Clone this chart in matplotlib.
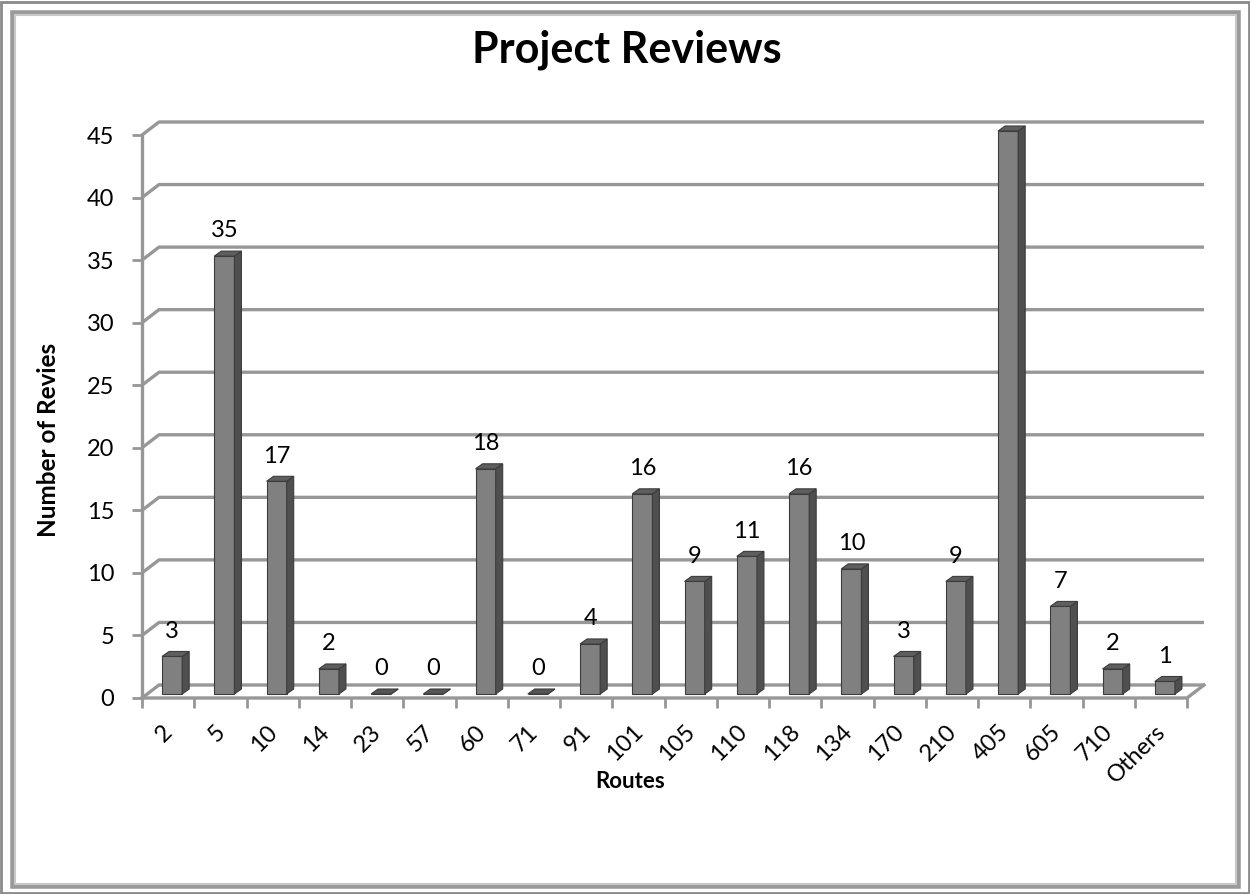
import matplotlib
matplotlib.use("Agg")
import matplotlib.pyplot as plt
import matplotlib.transforms as mtrans
from matplotlib.patches import Polygon, Rectangle
import numpy as np

plt.rcParams['font.family'] = ['Lato', 'DejaVu Sans']

categories = ["2", "5", "10", "14", "23", "57", "60", "71", "91", "101", "105",
              "110", "118", "134", "170", "210", "405", "605", "710", "Others"]
values = [3, 35, 17, 2, 0, 0, 18, 0, 4, 16, 9, 11, 16, 10, 3, 9, 45, 7, 2, 1]
yticks = [0, 5, 10, 15, 20, 25, 30, 35, 40, 45]

title = "Project Reviews"
xlabel = "Routes"
ylabel = "Number of Revies"

W, H = 1250, 894
fig = plt.figure(figsize=(W / 100, H / 100), dpi=100)

# axes: front plane of the 3D box
L, R, T, B = 142, 1187, 135, 698
ax = fig.add_axes([L / W, (H - B) / H, (R - L) / W, (B - T) / H])
n = len(categories)
ax.set_xlim(0, n)
ax.set_ylim(0, 45)
px = n / (R - L)      # data units per pixel in x
py = 45 / (B - T)     # data units per pixel in y

grid_c = "#979797"
# back wall offset
WX, WY = 17 * px, 13 * py
for t in yticks:
    ax.plot([0, WX, n + WX], [t, t + WY, t + WY], color=grid_c, lw=2.4,
            clip_on=False, zorder=1, solid_capstyle='butt')
# floor front and right edge
ax.plot([0, n, n + WX], [0, 0, WY], color=grid_c, lw=2.4, clip_on=False, zorder=1)

# bars
BX, BY = 4 * px, 4 * py
DX, DY = 7 * px, 5 * py
w = 0.385
centers = np.arange(n) + 0.5 + BX
front_c, side_c, top_c, edge_c = "#808080", "#4f4f4f", "#5e5e5e", "#3c3c3c"
ax.bar(centers, values, width=w, bottom=BY, color=front_c, edgecolor=edge_c,
       linewidth=0.8, zorder=3, clip_on=False)
for c, v in zip(centers, values):
    x0, x1 = c - w / 2, c + w / 2
    y0, yt = BY, BY + v
    side = Polygon([(x1, y0), (x1 + DX, y0 + DY), (x1 + DX, yt + DY), (x1, yt)],
                   closed=True, facecolor=side_c, edgecolor=edge_c, lw=0.8,
                   zorder=3, clip_on=False)
    top = Polygon([(x0, yt), (x0 + DX, yt + DY), (x1 + DX, yt + DY), (x1, yt)],
                  closed=True, facecolor=top_c if v > 0 else "#555555",
                  edgecolor=edge_c, lw=0.8, zorder=4, clip_on=False)
    ax.add_patch(side)
    ax.add_patch(top)
    ax.annotate(str(v), xy=(c, yt), xytext=(0, 13.5),
                textcoords='offset points', ha='center', va='baseline',
                fontsize=17, color='black', zorder=5)

# spines and ticks
for s in ['top', 'right', 'bottom']:
    ax.spines[s].set_visible(False)
ax.spines['left'].set_color(grid_c)
ax.spines['left'].set_linewidth(2.4)
ax.set_yticks(yticks)
ax.set_yticklabels([str(t) for t in yticks], fontsize=17)
ax.tick_params(axis='y', length=7, width=2, color=grid_c, pad=13)

ax.set_xticks(np.arange(n) + 0.5)
ax.set_xticks(np.arange(n + 1), minor=True)
ax.set_xticklabels(categories, rotation=45, ha='right', va='center',
                   rotation_mode='anchor', fontsize=17)
ax.tick_params(axis='x', which='major', length=0, pad=22)
ax.tick_params(axis='x', which='minor', length=7, width=2, color=grid_c)
off = mtrans.ScaledTranslation(1 / 100, 0, fig.dpi_scale_trans)
for lab in ax.get_xticklabels():
    lab.set_transform(lab.get_transform() + off)

fig.text(627 / W, 1 - 50 / H, title, ha='center', va='center',
         fontsize=31, fontweight='bold')
fig.text(630 / W, 1 - 782 / H, xlabel, ha='center', va='center',
         fontsize=16, fontweight='bold')
fig.text(49 / W, 1 - 440 / H, ylabel, ha='center', va='center',
         rotation=90, fontsize=17.5, fontweight='bold')

# border frame
fig.patches.append(Rectangle((1.5 / W, 1.5 / H), (W - 3) / W, (H - 3) / H,
                             transform=fig.transFigure, fill=False,
                             edgecolor="#8a8a8a", lw=2))
fig.patches.append(Rectangle((13 / W, 8 / H), (W - 25) / W, (H - 21) / H,
                             transform=fig.transFigure, fill=False,
                             edgecolor="#9a9a9a", lw=4))
fig.patches.append(Rectangle((15 / W, 10 / H), (W - 29) / W, (H - 25) / H,
                             transform=fig.transFigure, fill=False,
                             edgecolor="#c8c8c8", lw=1.5))

fig.savefig("out.png", dpi=100)
